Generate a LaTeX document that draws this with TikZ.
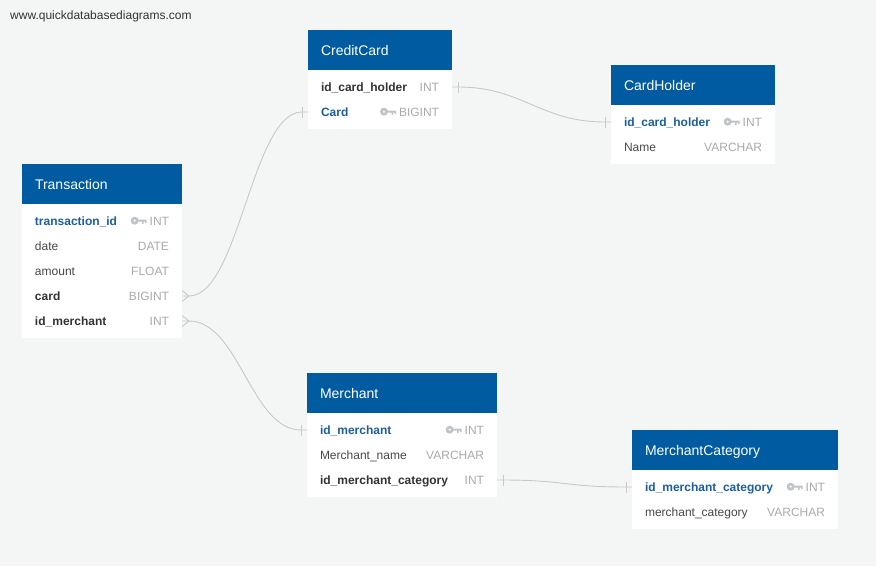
\documentclass[tikz,border=0pt]{standalone}
\usepackage{fontspec}
\setmainfont{Liberation Sans}
\usepackage{tikz}
\usetikzlibrary{matrix,positioning}

\definecolor{bgcol}{RGB}{244,245,245}
\definecolor{headblue}{RGB}{0,91,160}
\definecolor{pkblue}{RGB}{28,94,156}
\definecolor{fkdark}{RGB}{51,51,51}
\definecolor{fddark}{RGB}{72,72,72}
\definecolor{tygray}{RGB}{170,170,170}
\definecolor{keygray}{RGB}{192,196,200}
\definecolor{relgray}{RGB}{200,200,200}

\newcommand{\colpk}[1]{{\bfseries\color{pkblue}#1}}
\newcommand{\colfk}[1]{{\bfseries\color{fkdark}#1}}
\newcommand{\colfd}[1]{{\color{fddark}#1}}
\newcommand{\coltype}[1]{{\color{tygray}#1}}
\newcommand{\keyicon}{\tikz[baseline=0pt]{\fill[keygray, even odd rule] (4pt,4.3pt) circle[radius=4pt] (4pt,4.3pt) circle[radius=1.4pt]; \fill[keygray] (7pt,3.3pt) rectangle (16pt,5.4pt) (11.5pt,1.2pt) rectangle (13pt,3.3pt) (14.5pt,1.8pt) rectangle (16pt,3.3pt);}\hspace{3pt}}

\begin{document}
\begin{tikzpicture}[x=1pt, y=1pt,
    thead/.style={fill=headblue, text=white, font=\fontsize{14}{16}\selectfont, minimum height=40pt, inner xsep=13pt, inner ysep=0pt, text height=11pt, text depth=1pt, outer sep=0pt, align=left, anchor=north west},
    tbody/.style={matrix of nodes, fill=white, inner xsep=13pt, inner ysep=4.5pt, outer sep=0pt, row sep=0pt, nodes={inner sep=0pt, outer sep=0pt, minimum height=25pt, text height=10pt, text depth=2pt, align=left, font=\fontsize{12}{14}\selectfont}},
    rel/.style={draw=relgray, line width=0.9pt}]
      \fill[bgcol] (0,0) rectangle (876,-566);
      \useasboundingbox (0,0) rectangle (876,-566);
      \node[anchor=west, inner sep=0pt, font=\fontsize{12}{14}\selectfont, text=fkdark] (site) at (10,-16) {www.quickdatabasediagrams.com};

      \node[thead, text width=134pt] (transhd) at (22,-164) {Transaction};
      \matrix [tbody, nodes={text width=134pt}, below=0pt of transhd] (trans)
      {
          \colpk{transaction\_id}\hfill\keyicon\coltype{INT} \\
          \colfd{date}\hfill\coltype{DATE} \\
          \colfd{amount}\hfill\coltype{FLOAT} \\
          \colfk{card}\hfill\coltype{BIGINT} \\
          \colfk{id\_merchant}\hfill\coltype{INT} \\
      };

      \node[thead, text width=118pt] (cardhd) at (308,-30) {CreditCard};
      \matrix [tbody, nodes={text width=118pt}, below=0pt of cardhd] (card)
      {
          \colfk{id\_card\_holder}\hfill\coltype{INT} \\
          \colpk{Card}\hfill\keyicon\coltype{BIGINT} \\
      };

      \node[thead, text width=138pt] (holderhd) at (611,-65) {CardHolder};
      \matrix [tbody, nodes={text width=138pt}, below=0pt of holderhd] (holder)
      {
          \colpk{id\_card\_holder}\hfill\keyicon\coltype{INT} \\
          \colfd{Name}\hfill\coltype{VARCHAR} \\
      };

      \node[thead, text width=164pt] (merchhd) at (307,-373) {Merchant};
      \matrix [tbody, nodes={text width=164pt}, below=0pt of merchhd] (merch)
      {
          \colpk{id\_merchant}\hfill\keyicon\coltype{INT} \\
          \colfd{Merchant\_name}\hfill\coltype{VARCHAR} \\
          \colfk{id\_merchant\_category}\hfill\coltype{INT} \\
      };

      \node[thead, text width=180pt] (mcathd) at (632,-430) {MerchantCategory};
      \matrix [tbody, nodes={text width=180pt}, below=0pt of mcathd] (mcat)
      {
          \colpk{id\_merchant\_category}\hfill\keyicon\coltype{INT} \\
          \colfd{merchant\_category}\hfill\coltype{VARCHAR} \\
      };

      \coordinate (r1a) at (trans.east |- trans-4-1);
      \coordinate (r1b) at (card.west |- card-2-1);
      \coordinate (r2a) at (trans.east |- trans-5-1);
      \coordinate (r2b) at (merch.west |- merch-1-1);
      \coordinate (r3a) at (card.east |- card-1-1);
      \coordinate (r3b) at (holder.west |- holder-1-1);
      \coordinate (r4a) at (merch.east |- merch-3-1);
      \coordinate (r4b) at (mcat.west |- mcat-1-1);

      \draw[rel] (r1a) -- ++(7,0) .. controls +(50,0) and +(-50,0) .. ([xshift=-6pt]r1b) -- (r1b);
      \draw[rel] (r1a) ++(7,0) -- +(-7,5.5) +(0,0) -- +(-7,-5.5);
      \draw[rel] ([xshift=-6pt]r1b) +(0,5.5) -- +(0,-5.5);
      \draw[rel] (r2a) -- ++(7,0) .. controls +(50,0) and +(-50,0) .. ([xshift=-6pt]r2b) -- (r2b);
      \draw[rel] (r2a) ++(7,0) -- +(-7,5.5) +(0,0) -- +(-7,-5.5);
      \draw[rel] ([xshift=-6pt]r2b) +(0,5.5) -- +(0,-5.5);
      \draw[rel] (r3a) -- ([xshift=6pt]r3a) .. controls +(65,0) and +(-65,0) .. ([xshift=-6pt]r3b) -- (r3b);
      \draw[rel] ([xshift=6pt]r3a) +(0,5.5) -- +(0,-5.5);
      \draw[rel] ([xshift=-6pt]r3b) +(0,5.5) -- +(0,-5.5);
      \draw[rel] (r4a) -- ([xshift=6pt]r4a) .. controls +(60,0) and +(-60,0) .. ([xshift=-6pt]r4b) -- (r4b);
      \draw[rel] ([xshift=6pt]r4a) +(0,5.5) -- +(0,-5.5);
      \draw[rel] ([xshift=-6pt]r4b) +(0,5.5) -- +(0,-5.5);
\end{tikzpicture}
\end{document}
